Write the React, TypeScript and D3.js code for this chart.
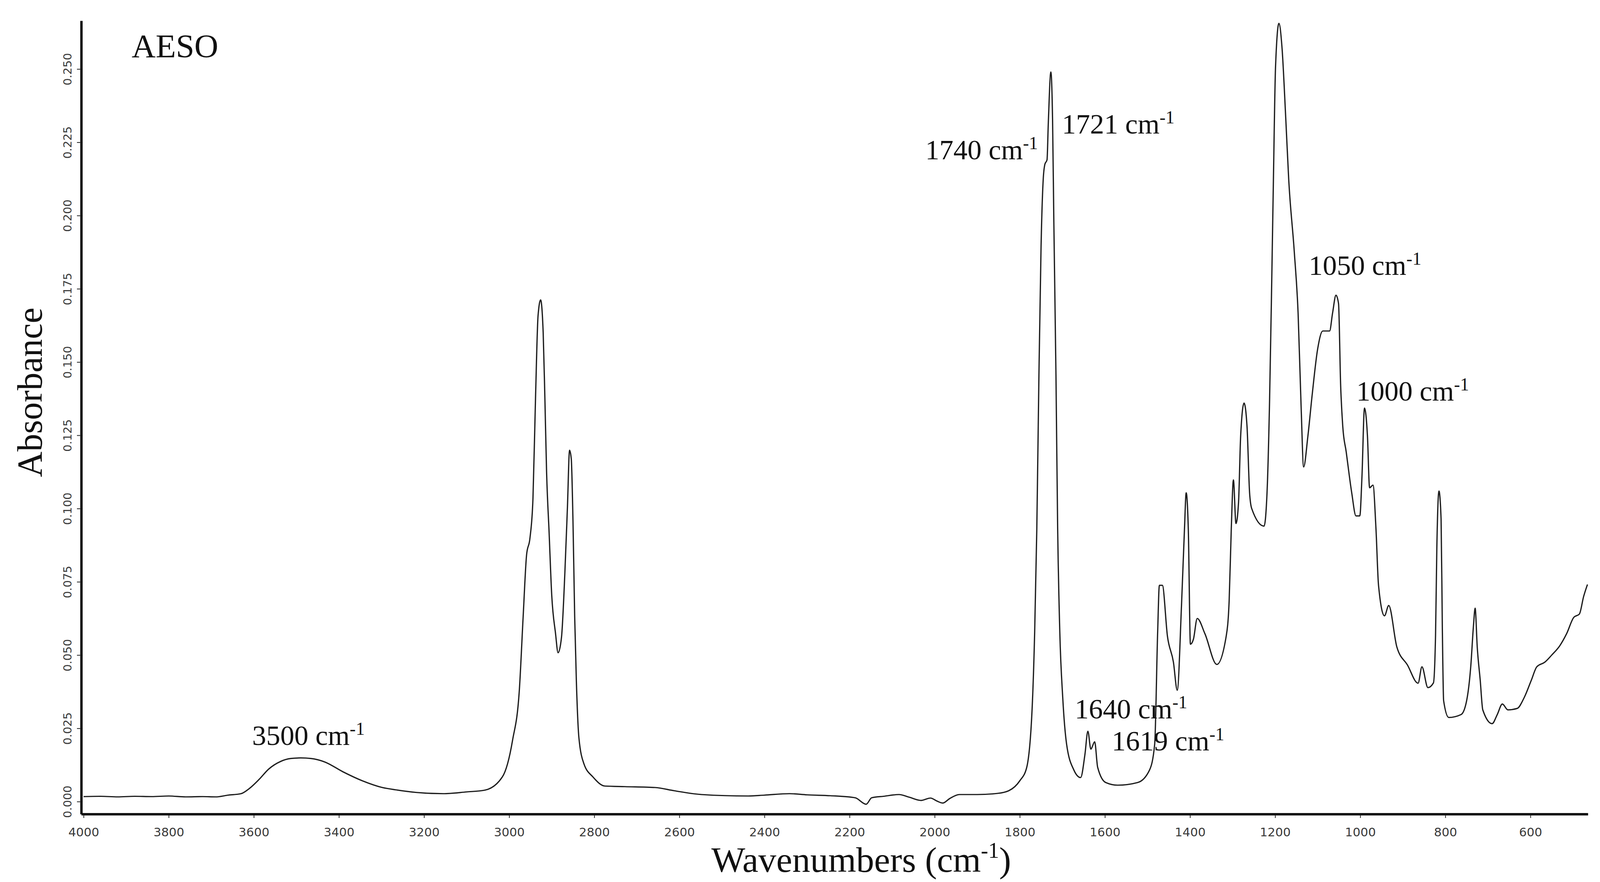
import React, { useRef, useEffect } from "react";
import * as d3 from "d3";

// FTIR spectrum of AESO
const wavenumbers = [
  4000, 3960, 3920, 3880, 3840, 3800, 3760, 3720, 3690, 3660,
  3630, 3611, 3588, 3565, 3537, 3513, 3490, 3466, 3433, 3391,
  3345, 3298, 3266, 3217, 3155, 3100, 3057, 3016, 2992, 2976,
  2967, 2959, 2951, 2944, 2938, 2932, 2926, 2920, 2916, 2912,
  2906, 2900, 2891, 2885, 2877, 2869, 2863, 2858, 2854, 2850,
  2846, 2842, 2836, 2824, 2803, 2775, 2728, 2657, 2612, 2548,
  2438, 2400, 2341, 2300, 2245, 2187, 2161, 2148, 2120, 2084,
  2060, 2032, 2010, 1995, 1981, 1965, 1942, 1900, 1852, 1826,
  1800, 1784, 1771, 1765, 1760, 1755, 1750, 1745, 1741, 1736,
  1733, 1727, 1723, 1720, 1715, 1711, 1706, 1699, 1690, 1673,
  1657, 1647, 1640, 1633, 1624, 1617, 1598, 1570, 1523, 1495,
  1483, 1476, 1472, 1465, 1453, 1439, 1430, 1420, 1413, 1409,
  1404, 1399, 1392, 1383, 1365, 1337, 1315, 1308, 1303, 1298,
  1292, 1286, 1281, 1273, 1266, 1260, 1255, 1226, 1219, 1213,
  1208, 1204, 1199, 1191, 1184, 1175, 1168, 1155, 1146, 1139,
  1133, 1123, 1113, 1100, 1088, 1072, 1065, 1057, 1051, 1046,
  1041, 1033, 1020, 1010, 1001, 996, 990, 983, 978, 970,
  963, 957, 943, 933, 914, 889, 864, 855, 841, 828,
  823, 820, 815, 810, 807, 804, 792, 763, 750, 740,
  734, 730, 725, 718, 712, 690, 678, 666, 653, 631,
  615, 598, 585, 566, 550, 531, 515, 498, 485, 475,
  466,
];

const absorbance = [
  0.0017, 0.0018, 0.0016, 0.0018, 0.0017, 0.0019, 0.0016, 0.0017, 0.0016, 0.0022,
  0.0027, 0.0044, 0.0075, 0.0111, 0.0137, 0.0147, 0.0149, 0.0147, 0.0135, 0.0102,
  0.0071, 0.0048, 0.004, 0.0031, 0.0027, 0.0033, 0.0039, 0.0084, 0.0209, 0.0381,
  0.0633, 0.0842, 0.09, 0.1035, 0.1377, 0.1659, 0.1712, 0.16, 0.1377, 0.1125,
  0.0916, 0.0707, 0.0574, 0.0508, 0.056, 0.0782, 0.1005, 0.1199, 0.117, 0.096,
  0.0633, 0.041, 0.0217, 0.0128, 0.0084, 0.0053, 0.0051, 0.0048, 0.0037, 0.0024,
  0.0019, 0.0022, 0.0027, 0.0023, 0.002, 0.0013, -0.0009, 0.0013, 0.0018, 0.0024,
  0.0015, 0.0004, 0.0012, 0.0002, -0.0005, 0.001, 0.0024, 0.0024, 0.0028, 0.0037,
  0.0071, 0.0115, 0.0318, 0.0581, 0.0931, 0.1457, 0.1895, 0.2122, 0.2175, 0.219,
  0.2315, 0.249, 0.233, 0.198, 0.1457, 0.093, 0.058, 0.0353, 0.0196, 0.0108,
  0.0082, 0.016, 0.024, 0.0179, 0.0204, 0.0117, 0.0065, 0.0056, 0.0065, 0.0108,
  0.0196, 0.058, 0.0738, 0.0738, 0.0564, 0.0476, 0.038, 0.0669, 0.093, 0.1054,
  0.093, 0.0537, 0.0554, 0.0625, 0.0573, 0.0468, 0.0564, 0.0686, 0.0931, 0.1098,
  0.0949, 0.102, 0.1247, 0.136, 0.128, 0.1054, 0.1, 0.094, 0.1054, 0.137,
  0.1772, 0.2122, 0.2508, 0.2656, 0.2577, 0.2332, 0.2122, 0.1877, 0.1667, 0.1352,
  0.1142, 0.1247, 0.1387, 0.1545, 0.1606, 0.1606, 0.1667, 0.1728, 0.17, 0.142,
  0.128, 0.1194, 0.1054, 0.0975, 0.0975, 0.1106, 0.1343, 0.1247, 0.1071, 0.108,
  0.0931, 0.0738, 0.0634, 0.0669, 0.0528, 0.0466, 0.0404, 0.046, 0.0389, 0.0405,
  0.0568, 0.0863, 0.106, 0.0965, 0.0588, 0.0344, 0.0287, 0.0297, 0.0344, 0.0466,
  0.0598, 0.066, 0.0527, 0.0414, 0.0313, 0.0266, 0.0297, 0.0333, 0.0313, 0.0318,
  0.0354, 0.0414, 0.046, 0.0476, 0.05, 0.0532, 0.0573, 0.0629, 0.064, 0.07,
  0.0741,
];

const xTicks = [4000, 3800, 3600, 3400, 3200, 3000, 2800, 2600, 2400, 2200, 2000, 1800, 1600, 1400, 1200, 1000, 800, 600];
const yTicks = [0, 0.025, 0.05, 0.075, 0.1, 0.125, 0.15, 0.175, 0.2, 0.225, 0.25];

// peak labels, anchored (left baseline) in data units
const peakLabels = ["3500", "1740", "1721", "1640", "1619", "1050", "1000"];
const peakLabelWn = [3604, 2022, 1701, 1671, 1584, 1121, 1009];
const peakLabelAbs = [0.0193, 0.2192, 0.228, 0.0284, 0.0175, 0.1798, 0.1369];

const W = 4102;
const H = 2259;
const serif = "'Liberation Serif', 'Times New Roman', serif";
const sans = "'DejaVu Sans', Verdana, sans-serif";

const App: React.FC = () => {
  const svgRef = useRef<SVGSVGElement | null>(null);

  useEffect(() => {
    const svg = d3.select(svgRef.current);
    svg.selectAll("*").remove();

    const left = 208;
    const right = 4065;
    const top = 53;
    const bottom = 2085;

    const x = d3.scaleLinear().domain([4005.5, 465]).range([left, right]);
    const y = d3.scaleLinear().domain([-0.00426, 0.2665]).range([bottom, top]);

    svg.append("rect").attr("width", W).attr("height", H).attr("fill", "#fff");

    // spectrum
    const pts = wavenumbers.map((w, i) => [w, absorbance[i]] as [number, number]);
    const line = d3
      .line<[number, number]>()
      .x((d) => x(d[0]))
      .y((d) => y(d[1]))
      .curve(d3.curveMonotoneX);

    svg
      .append("path")
      .datum(pts)
      .attr("d", line)
      .attr("fill", "none")
      .attr("stroke", "#1c1c1c")
      .attr("stroke-width", 3.2)
      .attr("stroke-linejoin", "round");

    // x axis
    const xAxis = svg
      .append("g")
      .attr("transform", `translate(0,${bottom})`)
      .call(
        d3
          .axisBottom(x)
          .tickValues(xTicks)
          .tickSize(10)
          .tickSizeOuter(0)
          .tickFormat(d3.format("d"))
      );
    xAxis.select(".domain").attr("stroke", "#000").attr("stroke-width", 6);
    xAxis.selectAll(".tick line").attr("stroke", "#222").attr("stroke-width", 2);
    xAxis
      .selectAll(".tick text")
      .attr("y", 46)
      .attr("dy", "0.36em")
      .attr("fill", "#3a3a3a")
      .style("font-family", sans)
      .style("font-size", "31px");

    // y axis
    const yAxis = svg
      .append("g")
      .attr("transform", `translate(${left},0)`)
      .call(
        d3
          .axisLeft(y)
          .tickValues(yTicks)
          .tickSize(11)
          .tickSizeOuter(0)
          .tickFormat(d3.format(".3f"))
      );
    yAxis.select(".domain").attr("stroke", "#000").attr("stroke-width", 6);
    yAxis.selectAll(".tick line").attr("stroke", "#222").attr("stroke-width", 2);
    yAxis
      .selectAll(".tick text")
      .attr("transform", "rotate(-90)")
      .attr("x", 0)
      .attr("y", -35)
      .attr("dy", "0.36em")
      .attr("text-anchor", "middle")
      .attr("fill", "#3a3a3a")
      .style("font-family", sans)
      .style("font-size", "29px");

    // sample name
    svg
      .append("text")
      .attr("x", 337)
      .attr("y", 147)
      .style("font-family", serif)
      .style("font-size", "85px")
      .attr("fill", "#111")
      .text("AESO");

    // peak annotations
    peakLabels.forEach((lab, i) => {
      const t = svg
        .append("text")
        .attr("x", x(peakLabelWn[i]))
        .attr("y", y(peakLabelAbs[i]))
        .style("font-family", serif)
        .style("font-size", "72px")
        .attr("fill", "#111");
      t.append("tspan").text(`${lab} cm`);
      t.append("tspan").attr("dy", -26).style("font-size", "46px").text("-1");
    });

    // axis titles
    const xt = svg
      .append("text")
      .attr("x", 1821)
      .attr("y", 2233)
      .style("font-family", serif)
      .style("font-size", "92px")
      .attr("fill", "#111");
    xt.append("tspan").text("Wavenumbers (cm");
    xt.append("tspan").attr("dy", -36).style("font-size", "56px").text("-1");
    xt.append("tspan").attr("dy", 36).text(")");

    svg
      .append("text")
      .attr("transform", `translate(107,1005) rotate(-90)`)
      .attr("text-anchor", "middle")
      .style("font-family", serif)
      .style("font-size", "91px")
      .attr("fill", "#111")
      .text("Absorbance");
  }, []);

  return (
    <svg
      ref={svgRef}
      width={W}
      height={H}
      style={{ position: "absolute", left: 0, top: 0, display: "block" }}
    />
  );
};

export default App;
